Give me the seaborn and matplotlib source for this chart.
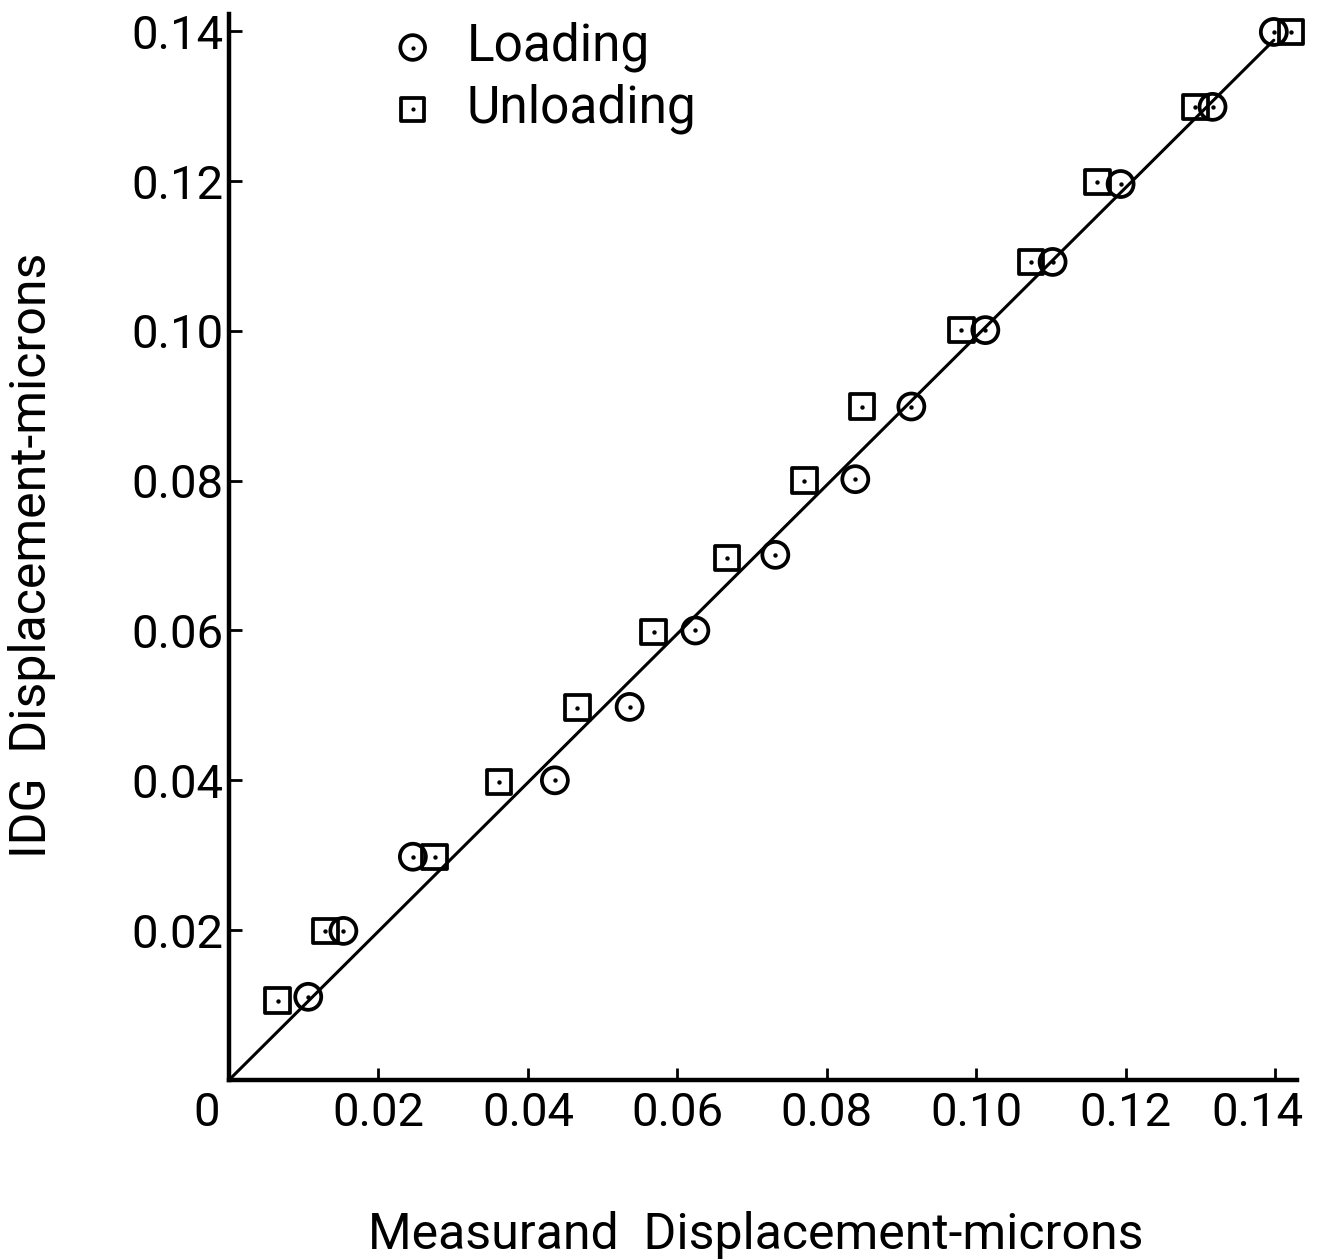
import matplotlib
matplotlib.use("Agg")
import matplotlib.pyplot as plt
import seaborn as sns
import pandas as pd
from matplotlib.transforms import ScaledTranslation

# ---- data ----
loading_x = [0.0106, 0.0153, 0.0246, 0.0436, 0.0536, 0.0624, 0.0731, 0.0838,
             0.0913, 0.1012, 0.1102, 0.1193, 0.1316, 0.1398]
loading_y = [0.0111, 0.0199, 0.0298, 0.0400, 0.0498, 0.0600, 0.0701, 0.0802,
             0.0899, 0.1001, 0.1092, 0.1196, 0.1299, 0.1399]
unloading_x = [0.0065, 0.0129, 0.0275, 0.0361, 0.0466, 0.0568, 0.0666, 0.0770,
               0.0847, 0.0980, 0.1073, 0.1162, 0.1293, 0.1421]
unloading_y = [0.0106, 0.0199, 0.0298, 0.0398, 0.0497, 0.0598, 0.0697, 0.0800,
               0.0899, 0.1001, 0.1092, 0.1199, 0.1299, 0.1399]
fit_x = [0.0, 0.1398]
fit_y = [0.0, 0.1388]

x_ticks = [0.0, 0.02, 0.04, 0.06, 0.08, 0.10, 0.12, 0.14]
x_tick_labels = ["0", "0.02", "0.04", "0.06", "0.08", "0.10", "0.12", "0.14"]
y_ticks = [0.02, 0.04, 0.06, 0.08, 0.10, 0.12, 0.14]
y_tick_labels = ["0.02", "0.04", "0.06", "0.08", "0.10", "0.12", "0.14"]
series_names = ["Loading", "Unloading"]
x_title = "Measurand  Displacement-microns"
y_title = "IDG  Displacement-microns"

sns.set_theme(style="ticks")
plt.rcParams["font.family"] = ["Roboto", "DejaVu Sans"]
plt.rcParams["text.color"] = "black"

FS = 34
fig = plt.figure(figsize=(13.17, 12.59), dpi=100)
fig.patch.set_facecolor("white")
ax = fig.add_axes([0.1739, 0.1422, 0.8109, 0.8467])
ax.set_facecolor("white")

fit_df = pd.DataFrame({"x": fit_x, "y": fit_y})
sns.lineplot(data=fit_df, x="x", y="y", ax=ax, color="black", linewidth=2.2,
             estimator=None, sort=False, legend=False)

load_df = pd.DataFrame({"x": loading_x, "y": loading_y})
unload_df = pd.DataFrame({"x": unloading_x, "y": unloading_y})

sns.scatterplot(data=unload_df, x="x", y="y", ax=ax, marker="s", s=310,
                facecolors="none", edgecolor="black", linewidth=2.7,
                legend=False, clip_on=False)
sns.scatterplot(data=load_df, x="x", y="y", ax=ax, marker="o", s=350,
                facecolors="none", edgecolor="black", linewidth=2.7,
                legend=False, clip_on=False)
sns.scatterplot(data=unload_df, x="x", y="y", ax=ax, marker="o", s=10,
                color="black", linewidth=0, legend=False, clip_on=False)
sns.scatterplot(data=load_df, x="x", y="y", ax=ax, marker="o", s=10,
                color="black", linewidth=0, legend=False, clip_on=False)

colls = ax.collections
sq, circ, sq_dot, circ_dot = colls[-4], colls[-3], colls[-2], colls[-1]

ax.set_xlim(0, 0.1429)
ax.set_ylim(0, 0.1423)
ax.set_xticks(x_ticks)
ax.set_xticklabels(x_tick_labels)
ax.set_yticks(y_ticks)
ax.set_yticklabels(y_tick_labels)

sns.despine(ax=ax)
for side in ["left", "bottom"]:
    ax.spines[side].set_linewidth(3.2)
    ax.spines[side].set_color("black")
    ax.spines[side].set_capstyle("projecting")

ax.tick_params(axis="both", direction="in", length=9, width=2.0, colors="black",
               labelsize=FS, labelcolor="black")
ax.tick_params(axis="x", pad=8)
ax.tick_params(axis="y", pad=4)

# the "0" sits left of the corner and the last label is nudged left, as in the original
xt = ax.xaxis.get_major_ticks()
zero_lab = xt[0].label1
zero_lab.set_transform(zero_lab.get_transform() +
                       ScaledTranslation(-0.22, 0, fig.dpi_scale_trans))
last_lab = xt[-1].label1
last_lab.set_transform(last_lab.get_transform() +
                       ScaledTranslation(-0.18, 0, fig.dpi_scale_trans))

LFS = 36
ax.set_xlabel(x_title, fontsize=LFS, color="black")
ax.set_ylabel(y_title, fontsize=LFS, color="black")
ax.xaxis.set_label_coords((756 - 229) / 1068, (1080 - 1211) / 1066)
ax.yaxis.set_label_coords((56 - 229) / 1068, (1080 - 555) / 1066)

leg = ax.legend(handles=[(circ, circ_dot), (sq, sq_dot)], labels=series_names,
                loc="upper left", bbox_to_anchor=(387 / 1317, 1 - 22 / 1259),
                bbox_transform=fig.transFigure, frameon=False, fontsize=37,
                handlelength=1.0, handletextpad=0.556, borderpad=0,
                borderaxespad=0, labelspacing=0.22, markerscale=0.95,
                scatterpoints=1, labelcolor="black")

fig.savefig("out.png", dpi=100, facecolor="white")
